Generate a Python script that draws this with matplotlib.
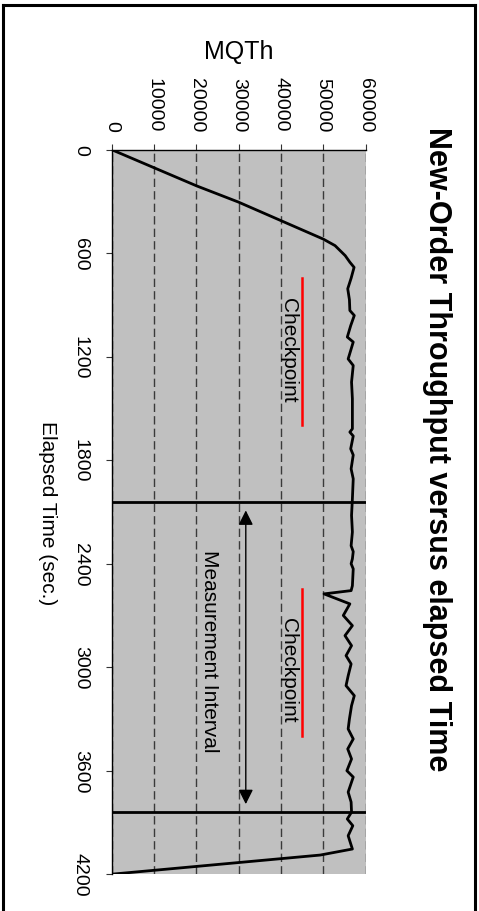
import matplotlib
matplotlib.use("Agg")
import matplotlib.pyplot as plt
from matplotlib.lines import Line2D

plt.rcParams['font.family'] = ['Liberation Sans', 'DejaVu Sans']

# elapsed time (sec.) and new-order throughput (MQTh)
elapsed = [0, 210, 303, 518, 556, 614, 652, 682, 745, 806, 870, 932, 961, 1020,
           1086, 1115, 1213, 1251, 1347, 1444, 1560, 1618, 1637, 1660, 1734, 1770,
           1850, 1908, 2024, 2120, 2216, 2296, 2330, 2372, 2400, 2430, 2528, 2556,
           2575, 2633, 2700, 2759, 2817, 2875, 2933, 2981, 3050, 3107, 3165, 3223,
           3300, 3358, 3416, 3474, 3532, 3600, 3637, 3724, 3782, 3840, 3880, 3919,
           3977, 4054, 4089, 4200]
mqth = [0, 20100, 29900, 50000, 52800, 55200, 56300, 57300, 56600, 55800, 56200,
        56300, 57350, 56500, 55700, 57100, 55900, 57100, 56700, 56900, 56900, 56900,
        56300, 57100, 56500, 57100, 56600, 57100, 56900, 56700, 56900, 56600, 57100,
        56900, 56600, 57100, 56900, 56600, 50200, 56300, 54750, 56900, 55150, 56700,
        55400, 56600, 55900, 55400, 57350, 56700, 56200, 55900, 57100, 55800, 56700,
        55600, 57100, 55900, 56600, 56700, 55700, 57000, 55900, 56900, 49300, 0]

time_ticks = [0, 600, 1200, 1800, 2400, 3000, 3600, 4200]
mqth_ticks = [0, 10000, 20000, 30000, 40000, 50000, 60000]

interval = [2040, 3840]           # measurement interval start / end
checkpoints = [(744, 1596), (2547, 3399)]
checkpoint_level = 45000

fig = plt.figure(figsize=(4.79, 9.12), dpi=100)
ax = fig.add_axes([111.7 / 479, 36.8 / 912, 253.8 / 479, 724.5 / 912])
ax.set_facecolor('#c0c0c0')

# chart is drawn turned a quarter turn: time runs downwards, MQTh to the right
ax.plot(mqth, elapsed, color='black', lw=2, zorder=4)

ax.set_xlim(0, 60000)
ax.set_ylim(4200, 0)
ax.xaxis.tick_top()
ax.set_xticks(mqth_ticks)
ax.set_yticks(time_ticks)
ax.set_xticklabels([str(v) for v in mqth_ticks])
ax.set_yticklabels([str(v) for v in time_ticks])
ax.tick_params(axis='x', labelrotation=-90, labelsize=14, length=4.5, pad=9,
               color='#333333')
ax.tick_params(axis='y', labelrotation=-90, labelsize=14, length=4.5, pad=12,
               color='#333333')
for lab in ax.get_yticklabels():
    lab.set_va('center')

ax.grid(axis='x', color='#3a3a3a', lw=1, ls=(0, (6, 3)))
ax.grid(axis='y', visible=False)
for side in ['right', 'bottom']:
    ax.spines[side].set_visible(False)
for side in ['top', 'left']:
    ax.spines[side].set_linewidth(1)
ax.set_axisbelow(True)

# measurement interval
for t in interval:
    ax.axhline(t, color='black', lw=2, zorder=3)
ax.annotate('', xy=(31700, interval[0] + 35), xytext=(31700, interval[1] - 30),
            arrowprops=dict(arrowstyle='<|-|>', color='black', lw=1,
                            mutation_scale=22), zorder=5)
ax.text(23200, 2900, 'Measurement Interval', rotation=-90, fontsize=15,
        ha='center', va='center')

# checkpoints
for start, end in checkpoints:
    ax.plot([checkpoint_level, checkpoint_level], [start, end], color='#ff0000', lw=1.8,
            zorder=3)
ax.text(41700, 1160, 'Checkpoint', rotation=-90, fontsize=15, ha='center', va='center')
ax.text(41700, 3010, 'Checkpoint', rotation=-90, fontsize=15, ha='center', va='center')

fig.text(239 / 479, 1 - 52 / 912, 'MQTh', fontsize=18, ha='center', va='center')
fig.text(47 / 479, 1 - 513 / 912, 'Elapsed Time (sec.)', rotation=-90, fontsize=15,
         ha='center', va='center')
fig.text(437 / 479, 1 - 449 / 912, 'New-Order Throughput versus elapsed Time',
         rotation=-90, fontsize=22, fontweight='bold', ha='center', va='center')

# outer frame
for xs, ys in [([3, 3], [0, 906]), ([3, 475], [906, 906]), ([475, 475], [0, 906])]:
    fig.add_artist(Line2D([x / 479 for x in xs], [y / 912 for y in ys], color='black',
                          lw=2.2, transform=fig.transFigure))

fig.savefig('out.png', dpi=100)
